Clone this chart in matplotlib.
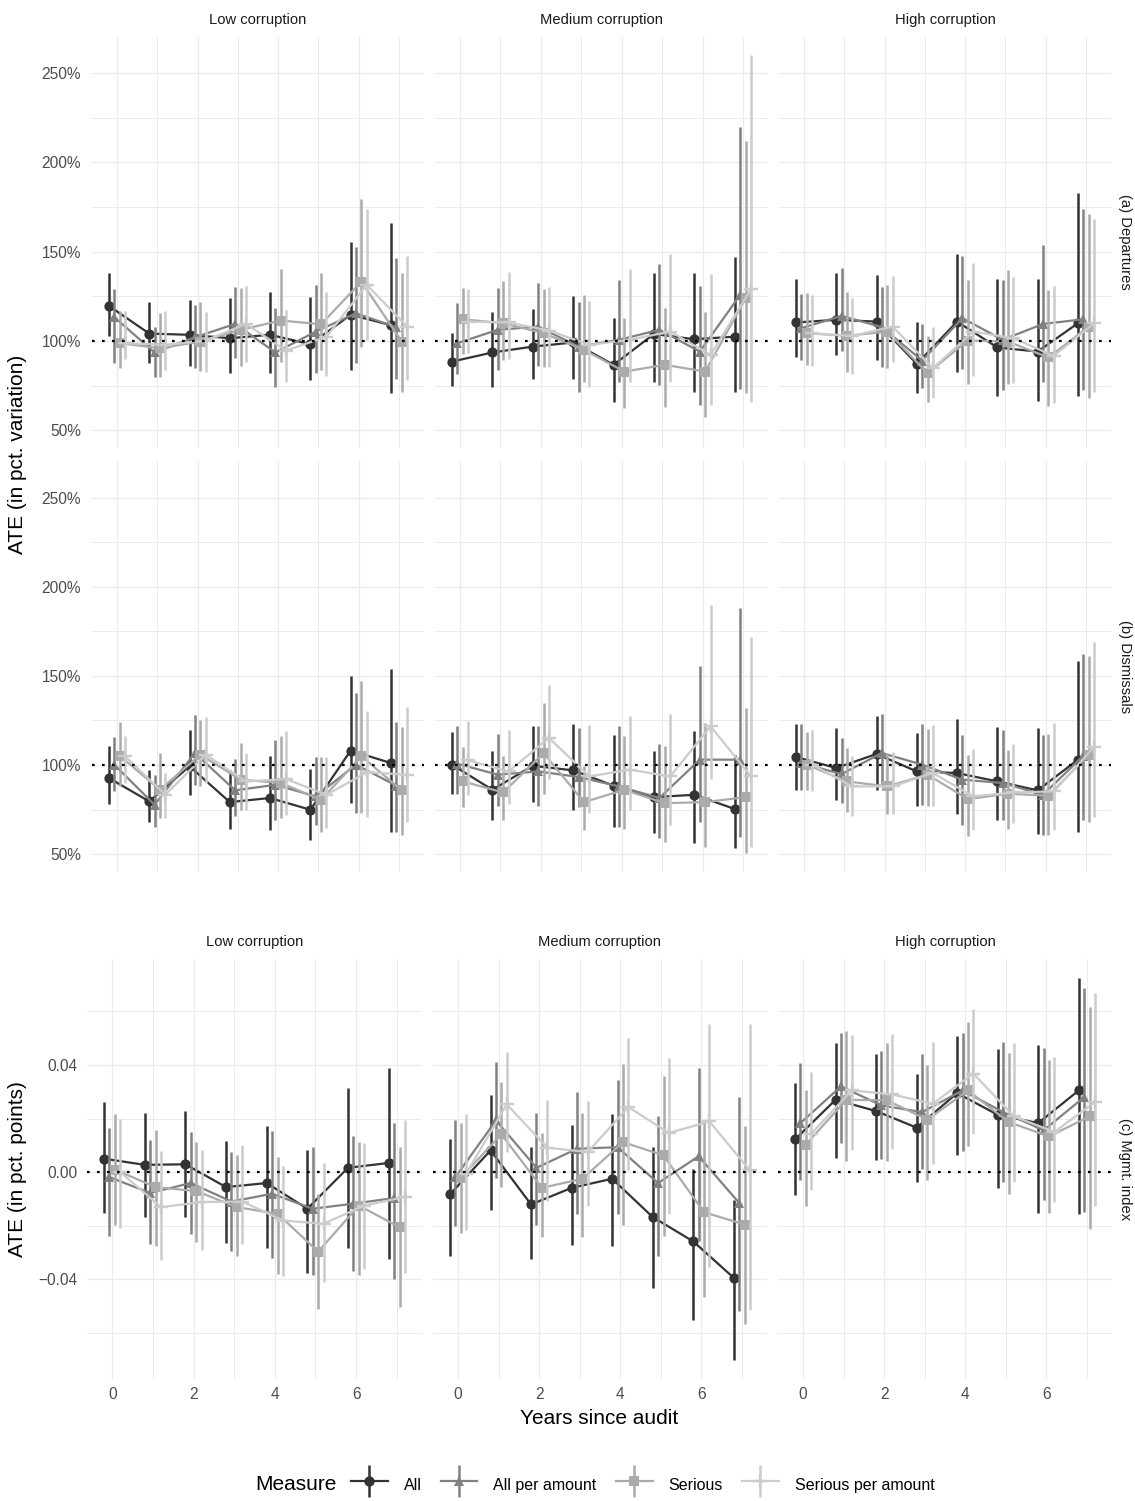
import numpy as np
import matplotlib
matplotlib.use('Agg')
import matplotlib.pyplot as plt
from matplotlib.ticker import MultipleLocator, FuncFormatter
from matplotlib.container import ErrorbarContainer
from matplotlib.legend_handler import HandlerErrorbar

plt.rcParams['font.family'] = ['Liberation Sans', 'DejaVu Sans']

years = np.arange(8)
measures = ['All', 'All per amount', 'Serious', 'Serious per amount']
levels = ['Low corruption', 'Medium corruption', 'High corruption']
outcomes = ['(a) Departures', '(b) Dismissals', '(c) Mgmt. index']

# rows: All, All per amount, Serious, Serious per amount ; columns: years 0..7
# (a) departures, in %
dep_low_est = [[119.6, 104.1, 103.4, 101.5, 103.4, 98.1, 114.6, 108.8],
               [113.3, 93.5, 102.0, 109.5, 93.5, 105.2, 115.5, 107.6],
               [98.7, 95.9, 99.6, 106.2, 111.4, 109.3, 133.2, 99.6],
               [98.7, 97.8, 100.2, 109.5, 94.6, 102.4, 131.4, 108.0]]
dep_low_lo = [[102.8, 87.5, 86.0, 81.9, 81.9, 78.2, 83.8, 70.7],
              [87.5, 79.5, 84.7, 90.3, 74.4, 81.9, 87.5, 78.5],
              [84.7, 79.5, 83.4, 86.0, 88.4, 83.8, 96.8, 71.6],
              [90.0, 83.8, 82.8, 88.4, 77.2, 80.4, 100.6, 78.0]]
dep_low_hi = [[138.3, 122.0, 123.0, 123.9, 127.6, 124.8, 155.3, 166.0],
              [129.0, 108.0, 120.0, 130.0, 118.3, 131.4, 152.5, 146.5],
              [117.0, 115.5, 122.0, 129.5, 140.0, 138.3, 179.5, 138.0],
              [117.0, 116.8, 116.4, 130.8, 117.4, 127.3, 173.9, 147.6]]

dep_med_est = [[88.4, 93.5, 96.8, 99.1, 86.6, 103.9, 100.9, 102.4],
               [98.7, 106.2, 108.0, 96.8, 100.6, 106.2, 94.0, 125.8],
               [112.1, 109.9, 104.3, 95.0, 82.8, 86.6, 82.8, 124.0],
               [110.8, 110.3, 105.8, 97.8, 100.6, 105.2, 92.2, 129.0]]
dep_med_lo = [[74.8, 74.4, 78.5, 78.5, 66.0, 77.2, 71.6, 71.6],
              [81.5, 83.8, 86.0, 71.6, 76.7, 75.4, 64.2, 72.9],
              [92.7, 89.4, 85.6, 77.2, 62.3, 62.8, 57.6, 70.7],
              [93.0, 89.7, 85.2, 74.0, 77.2, 77.2, 64.2, 66.0]]
dep_med_hi = [[104.3, 115.9, 117.7, 125.4, 112.7, 138.3, 137.9, 146.9],
              [121.5, 129.5, 132.3, 122.0, 134.0, 143.1, 130.8, 220.0],
              [129.5, 133.6, 129.0, 125.8, 112.7, 118.3, 116.4, 212.0],
              [129.0, 138.8, 130.4, 122.6, 140.0, 148.7, 137.4, 260.0]]

dep_high_est = [[110.3, 111.8, 110.8, 87.1, 110.8, 96.3, 94.0, 109.9],
                [107.1, 114.0, 107.7, 89.0, 112.7, 100.6, 109.5, 112.1],
                [104.3, 102.8, 105.2, 81.9, 100.2, 99.6, 90.7, 108.0],
                [104.3, 102.8, 108.0, 84.7, 105.2, 101.5, 91.6, 109.9]]
dep_high_lo = [[90.7, 92.2, 89.4, 70.7, 82.8, 69.2, 66.6, 69.2],
               [89.4, 94.6, 85.6, 73.5, 84.1, 72.6, 77.2, 72.6],
               [86.6, 82.3, 84.7, 66.0, 75.9, 75.9, 63.6, 67.9],
               [86.0, 81.5, 87.9, 67.9, 80.4, 76.3, 65.1, 71.1]]
dep_high_hi = [[134.5, 137.9, 137.0, 110.3, 148.5, 134.7, 134.4, 183.0],
               [126.1, 140.7, 130.4, 109.5, 147.6, 134.1, 153.9, 174.0],
               [126.9, 127.6, 131.4, 102.8, 134.2, 139.8, 128.3, 171.0],
               [125.8, 123.9, 136.6, 107.7, 143.5, 136.0, 131.0, 168.0]]

# (b) dismissals, in %
dis_low_est = [[92.7, 79.6, 99.3, 79.2, 81.5, 74.9, 108.1, 101.1],
               [100.2, 77.7, 106.7, 85.8, 88.9, 82.4, 100.2, 88.4],
               [105.2, 86.1, 105.8, 91.8, 89.9, 80.5, 104.9, 85.8],
               [104.9, 83.3, 105.8, 90.8, 92.1, 83.3, 95.9, 94.6]]
dis_low_lo = [[78.1, 67.8, 83.3, 64.0, 63.7, 57.7, 78.6, 62.7],
              [85.2, 65.5, 89.0, 71.2, 69.3, 66.5, 73.0, 62.7],
              [88.4, 70.2, 88.0, 74.9, 70.2, 62.7, 73.0, 60.9],
              [89.9, 70.2, 89.9, 74.9, 72.1, 64.6, 70.8, 67.8]]
dis_low_hi = [[110.9, 97.4, 119.5, 97.4, 105.2, 97.8, 150.2, 153.9],
              [115.7, 94.6, 128.3, 103.4, 114.2, 104.5, 140.5, 124.0],
              [124.2, 106.7, 125.5, 112.4, 116.5, 104.5, 147.0, 121.4],
              [116.1, 95.5, 127.0, 106.7, 118.9, 104.5, 130.5, 132.6]]

dis_med_est = [[100.2, 86.1, 99.6, 97.0, 88.4, 82.0, 83.3, 75.3],
               [100.7, 94.6, 96.4, 93.3, 88.0, 81.5, 103.0, 103.0],
               [90.8, 84.6, 106.7, 79.2, 86.1, 78.6, 79.2, 82.0],
               [102.6, 96.4, 115.2, 93.6, 97.4, 93.6, 121.7, 93.6]]
dis_med_lo = [[83.9, 68.9, 79.0, 74.5, 65.5, 61.8, 56.2, 53.4],
              [83.9, 77.1, 77.1, 76.4, 65.2, 59.0, 68.3, 59.9],
              [76.2, 68.9, 83.9, 63.3, 64.0, 57.1, 54.3, 50.6],
              [83.3, 78.3, 92.1, 73.0, 74.5, 66.5, 92.0, 53.9]]
dis_med_hi = [[118.5, 108.1, 122.1, 123.0, 117.0, 107.7, 118.9, 105.8],
              [122.1, 117.4, 121.7, 120.8, 122.1, 112.0, 155.8, 188.0],
              [109.9, 104.9, 134.8, 99.3, 116.5, 110.5, 123.6, 132.0],
              [124.9, 119.9, 144.6, 122.7, 127.7, 128.8, 190.0, 172.0]]

dis_high_est = [[104.5, 98.3, 106.2, 96.4, 95.5, 90.8, 85.8, 103.0],
                [101.1, 94.9, 106.7, 100.2, 91.8, 89.9, 83.3, 105.2],
                [100.2, 90.8, 88.0, 94.6, 80.9, 83.9, 82.8, 105.8],
                [100.2, 88.0, 88.0, 95.5, 82.4, 84.6, 85.2, 110.1]]
dis_high_lo = [[85.8, 80.1, 86.1, 77.1, 72.7, 68.9, 61.4, 62.7],
               [86.1, 78.6, 88.0, 77.7, 66.5, 69.3, 60.9, 68.9],
               [86.1, 73.4, 72.7, 76.8, 60.3, 64.0, 60.9, 68.3],
               [85.2, 71.5, 72.7, 77.1, 63.3, 67.4, 63.7, 70.8]]
dis_high_hi = [[123.2, 120.8, 127.3, 118.0, 125.8, 121.4, 120.8, 158.2],
               [123.2, 115.2, 128.8, 123.2, 116.7, 119.5, 117.0, 162.0],
               [118.5, 109.6, 106.7, 120.2, 105.4, 108.6, 117.6, 161.0],
               [119.9, 104.9, 107.1, 122.7, 109.0, 111.8, 123.6, 169.0]]

# (c) management index, in pct. points
mgm_low_est = [[0.0050, 0.0027, 0.0029, -0.0056, -0.0041, -0.0137, 0.0016, 0.0034],
               [-0.0019, -0.0078, -0.0041, -0.0110, -0.0081, -0.0137, -0.0118, -0.0097],
               [0.0009, -0.0056, -0.0071, -0.0131, -0.0156, -0.0297, -0.0125, -0.0206],
               [0.0000, -0.0131, -0.0112, -0.0110, -0.0181, -0.0193, -0.0125, -0.0093]]
mgm_low_lo = [[-0.0153, -0.0166, -0.0166, -0.0265, -0.0283, -0.0378, -0.0283, -0.0324],
              [-0.0237, -0.0270, -0.0230, -0.0293, -0.0320, -0.0384, -0.0368, -0.0399],
              [-0.0199, -0.0278, -0.0262, -0.0312, -0.0380, -0.0511, -0.0384, -0.0505],
              [-0.0208, -0.0328, -0.0290, -0.0268, -0.0390, -0.0411, -0.0361, -0.0378]]
mgm_low_hi = [[0.0262, 0.0221, 0.0227, 0.0115, 0.0171, 0.0081, 0.0315, 0.0390],
              [0.0166, 0.0121, 0.0150, 0.0075, 0.0152, 0.0093, 0.0133, 0.0183],
              [0.0218, 0.0158, 0.0112, 0.0062, 0.0056, -0.0081, 0.0112, 0.0093],
              [0.0199, 0.0077, 0.0083, 0.0103, 0.0021, 0.0035, 0.0108, 0.0193]]

mgm_med_est = [[-0.0083, 0.0081, -0.0121, -0.0059, -0.0025, -0.0168, -0.0259, -0.0395],
               [-0.0019, 0.0193, 0.0016, 0.0087, 0.0093, -0.0041, 0.0059, -0.0115],
               [-0.0021, 0.0141, -0.0059, -0.0025, 0.0112, 0.0062, -0.0150, -0.0196],
               [-0.0006, 0.0253, 0.0091, 0.0075, 0.0243, 0.0146, 0.0189, 0.0006]]
mgm_med_lo = [[-0.0314, -0.0143, -0.0326, -0.0274, -0.0278, -0.0434, -0.0552, -0.0701],
              [-0.0203, -0.0021, -0.0199, -0.0158, -0.0156, -0.0312, -0.0258, -0.0520],
              [-0.0228, -0.0056, -0.0243, -0.0243, -0.0196, -0.0240, -0.0465, -0.0567],
              [-0.0218, 0.0075, -0.0108, -0.0125, 0.0009, -0.0158, -0.0353, -0.0515]]
mgm_med_hi = [[0.0122, 0.0287, 0.0093, 0.0177, 0.0216, 0.0093, 0.0012, -0.0103],
              [0.0196, 0.0411, 0.0221, 0.0299, 0.0343, 0.0209, 0.0390, 0.0280],
              [0.0183, 0.0336, 0.0147, 0.0221, 0.0405, 0.0358, 0.0187, 0.0171],
              [0.0216, 0.0449, 0.0270, 0.0265, 0.0502, 0.0427, 0.0552, 0.0554]]

mgm_high_est = [[0.0122, 0.0270, 0.0228, 0.0166, 0.0295, 0.0214, 0.0183, 0.0305],
                [0.0183, 0.0320, 0.0249, 0.0224, 0.0305, 0.0224, 0.0156, 0.0280],
                [0.0103, 0.0270, 0.0268, 0.0196, 0.0305, 0.0187, 0.0133, 0.0208],
                [0.0143, 0.0305, 0.0290, 0.0255, 0.0368, 0.0208, 0.0150, 0.0262]]
mgm_high_lo = [[-0.0087, 0.0054, 0.0044, -0.0037, 0.0062, -0.0059, -0.0153, -0.0156],
               [-0.0029, 0.0108, 0.0050, 0.0012, 0.0078, -0.0037, -0.0103, -0.0150],
               [-0.0127, 0.0040, 0.0041, -0.0029, 0.0096, -0.0083, -0.0153, -0.0212],
               [-0.0066, 0.0081, 0.0087, 0.0031, 0.0143, -0.0037, -0.0110, -0.0127]]
mgm_high_hi = [[0.0334, 0.0482, 0.0440, 0.0368, 0.0507, 0.0461, 0.0473, 0.0725],
               [0.0409, 0.0521, 0.0451, 0.0440, 0.0521, 0.0486, 0.0464, 0.0689],
               [0.0305, 0.0526, 0.0482, 0.0401, 0.0561, 0.0446, 0.0417, 0.0617],
               [0.0374, 0.0513, 0.0517, 0.0486, 0.0611, 0.0482, 0.0430, 0.0670]]

panels = [
	[(dep_low_est, dep_low_lo, dep_low_hi), (dep_med_est, dep_med_lo, dep_med_hi), (dep_high_est, dep_high_lo, dep_high_hi)],
	[(dis_low_est, dis_low_lo, dis_low_hi), (dis_med_est, dis_med_lo, dis_med_hi), (dis_high_est, dis_high_lo, dis_high_hi)],
	[(mgm_low_est, mgm_low_lo, mgm_low_hi), (mgm_med_est, mgm_med_lo, mgm_med_hi), (mgm_high_est, mgm_high_lo, mgm_high_hi)],
]

colors = ['#333333', '#818181', '#ababab', '#cccccc']
markers = ['o', '^', 's', '+']
msizes = [7.4, 7.8, 6.8, 10.0]
offsets = [-0.2, -0.067, 0.067, 0.2]
grid_col = '#ebebeb'
tick_col = '#4d4d4d'
strip_col = '#1a1a1a'

W, H = 1135, 1501
fig = plt.figure(figsize=(W / 100, H / 100), dpi=100)

def add_panel(left, top, right, bottom):
	return fig.add_axes([left / W, 1 - bottom / H, (right - left) / W, (bottom - top) / H])

def pct_fmt(v, pos):
	return "%d%%" % int(round(v))

def pp_fmt(v, pos):
	if abs(v) < 1e-9:
		v = 0.0
	return ("%.2f" % v).replace('-', '\u2212')

# pixel boxes of the panels
top_cols = [(92, 424), (435, 768), (779, 1111)]
bot_cols = [(87, 422), (433, 767), (778, 1112)]
row_y = [(36.5, 448), (461, 872), (959, 1379)]

handles = []
for r in range(3):
	cols = top_cols if r < 2 else bot_cols
	for c in range(3):
		ax = add_panel(cols[c][0], row_y[r][0], cols[c][1], row_y[r][1])
		est, lo, hi = panels[r][c]
		for s in range(4):
			x = years + offsets[s]
			y = np.array(est[s])
			yerr = [y - np.array(lo[s]), np.array(hi[s]) - y]
			filled = markers[s] != '+'
			h = ax.errorbar(x, y, yerr=yerr, color=colors[s], marker=markers[s], ms=msizes[s],
				mew=0 if filled else 1.7, lw=1.6, elinewidth=1.8, capsize=0, zorder=3 + s)
			if r == 0 and c == 0:
				handles.append(h)

		ref = 100 if r < 2 else 0
		ax.axhline(ref, color='black', lw=1.6, ls=(0, (1.2, 3.3)), zorder=10)

		ax.set_xlim(-0.62, 7.62)
		if r < 2:
			ax.set_ylim(40, 270.5)
			ax.yaxis.set_major_locator(MultipleLocator(50))
			ax.yaxis.set_minor_locator(MultipleLocator(25))
			ax.yaxis.set_major_formatter(FuncFormatter(pct_fmt))
			ypad = 7.9
		else:
			ax.set_ylim(-0.0773, 0.0796)
			ax.yaxis.set_major_locator(MultipleLocator(0.04))
			ax.yaxis.set_minor_locator(MultipleLocator(0.02))
			ax.yaxis.set_major_formatter(FuncFormatter(pp_fmt))
			ypad = 7.2
		ax.xaxis.set_major_locator(MultipleLocator(2))
		ax.xaxis.set_minor_locator(MultipleLocator(1))

		ax.grid(which='major', color=grid_col, lw=0.9, zorder=0)
		ax.grid(which='minor', color=grid_col, lw=0.7, zorder=0)
		ax.set_axisbelow(True)
		for sp in ax.spines.values():
			sp.set_visible(False)
		ax.tick_params(which='both', length=0, labelsize=11.2, labelcolor=tick_col)
		ax.tick_params(axis='y', pad=ypad)
		ax.tick_params(axis='x', pad=5.8)
		if c > 0:
			ax.tick_params(axis='y', labelleft=False)
		if r < 2:
			ax.tick_params(axis='x', labelbottom=False)

		# column strips
		if r == 0 or r == 2:
			ystrip = 20 if r == 0 else 942
			fig.text((cols[c][0] + cols[c][1]) / 2 / W, 1 - ystrip / H, levels[c],
				ha='center', va='center', fontsize=10.6, color=strip_col)

	# row strips on the right
	yc = (row_y[r][0] + row_y[r][1]) / 2
	fig.text(1125 / W, 1 - yc / H, outcomes[r], rotation=-90, ha='center', va='center',
		fontsize=10.6, color=strip_col)

fig.text(18 / W, 1 - ((row_y[0][0] + row_y[1][1]) / 2) / H, 'ATE (in pct. variation)',
	rotation=90, ha='center', va='center', fontsize=15)
fig.text(18 / W, 1 - ((row_y[2][0] + row_y[2][1]) / 2) / H, 'ATE (in pct. points)',
	rotation=90, ha='center', va='center', fontsize=15)
fig.text(((bot_cols[0][0] + bot_cols[2][1]) / 2) / W, 1 - 1418 / H, 'Years since audit',
	ha='center', va='center', fontsize=15)

# legend
fig.text(255 / W, 1 - 1485 / H, 'Measure', ha='left', va='center', fontsize=15)
fig.legend(handles, measures, loc='center left', bbox_to_anchor=(351 / W, 1 - 1485 / H),
	ncol=4, frameon=False, fontsize=11.5, handlelength=2.3, handleheight=2.0,
	handletextpad=1.0, columnspacing=1.2, borderpad=0, borderaxespad=0,
	handler_map={ErrorbarContainer: HandlerErrorbar(xerr_size=0.5, yerr_size=1.0)})

fig.savefig('out.png', dpi=100, facecolor='white')
